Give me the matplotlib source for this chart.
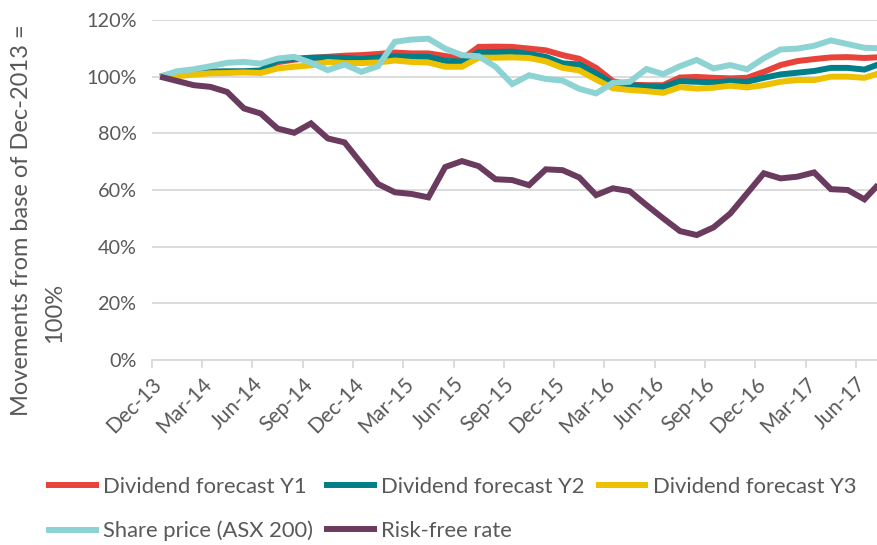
import matplotlib
matplotlib.use("Agg")
import matplotlib.pyplot as plt
import numpy as np

plt.rcParams['font.family'] = ['Lato', 'DejaVu Sans']

# Monthly index, Dec-13 = 100%
months = ['Dec-13', 'Jan-14', 'Feb-14', 'Mar-14', 'Apr-14', 'May-14', 'Jun-14', 'Jul-14',
          'Aug-14', 'Sep-14', 'Oct-14', 'Nov-14', 'Dec-14', 'Jan-15', 'Feb-15', 'Mar-15',
          'Apr-15', 'May-15', 'Jun-15', 'Jul-15', 'Aug-15', 'Sep-15', 'Oct-15', 'Nov-15',
          'Dec-15', 'Jan-16', 'Feb-16', 'Mar-16', 'Apr-16', 'May-16', 'Jun-16', 'Jul-16',
          'Aug-16', 'Sep-16', 'Oct-16', 'Nov-16', 'Dec-16', 'Jan-17', 'Feb-17', 'Mar-17',
          'Apr-17', 'May-17', 'Jun-17', 'Jul-17']

div_y1 = [100, 101.0, 101.3, 101.5, 101.6, 101.8, 102.0, 105.1, 106.0, 106.6, 107.0, 107.4,
          107.6, 108.0, 108.5, 108.2, 108.2, 107.3, 106.2, 110.5, 110.6, 110.5, 109.9, 109.3,
          107.6, 106.3, 103.1, 98.4, 97.2, 97.0, 97.0, 99.7, 99.9, 99.6, 99.4, 99.6,
          101.7, 104.1, 105.5, 106.2, 106.8, 106.9, 106.6, 106.9]
div_y2 = [100, 101.5, 101.8, 101.8, 101.9, 101.9, 102.2, 105.7, 106.3, 106.7, 106.8, 106.6,
          106.2, 106.8, 107.2, 107.0, 107.0, 105.6, 105.3, 108.6, 108.7, 108.8, 108.0, 107.0,
          104.7, 104.3, 101.1, 97.6, 97.0, 96.6, 96.4, 98.4, 98.2, 98.0, 98.4, 98.2,
          99.6, 100.8, 101.4, 102.0, 103.1, 103.1, 102.5, 104.7]
div_y3 = [100, 100.2, 100.7, 101.2, 101.3, 101.5, 101.3, 102.9, 103.5, 104.0, 105.2, 104.8,
          104.8, 105.0, 105.7, 105.2, 105.0, 103.5, 103.5, 106.7, 106.7, 106.8, 106.6, 105.4,
          103.1, 102.2, 99.0, 95.9, 95.3, 94.9, 94.3, 96.3, 95.8, 96.1, 96.8, 96.2,
          97.0, 98.2, 98.8, 98.8, 100.0, 100.0, 99.6, 101.4]
share_price = [100, 101.9, 102.6, 103.7, 104.9, 105.2, 104.6, 106.4, 107.0, 104.9, 102.3, 104.3,
               101.7, 103.7, 112.3, 113.1, 113.4, 109.9, 107.6, 107.2, 103.5, 97.4, 100.5, 99.2,
               98.6, 95.7, 94.1, 97.8, 98.2, 102.7, 100.9, 103.7, 105.9, 102.9, 104.1, 102.6,
               106.5, 109.6, 109.9, 110.9, 112.8, 111.5, 110.2, 110.0]
risk_free = [100, 98.5, 97.0, 96.4, 94.6, 88.8, 87.0, 81.7, 80.2, 83.5, 78.2, 76.8,
             69.4, 62.1, 59.2, 58.6, 57.4, 68.1, 70.2, 68.4, 63.8, 63.5, 61.7, 67.3,
             67.0, 64.4, 58.2, 60.6, 59.6, 54.7, 50.0, 45.5, 44.1, 46.8, 51.7, 58.8,
             65.9, 64.1, 64.7, 66.2, 60.3, 60.0, 56.7, 63.0]

series = [
    ('Dividend forecast Y1', div_y1, '#E8433A'),
    ('Dividend forecast Y2', div_y2, '#007F89'),
    ('Dividend forecast Y3', div_y3, '#EDC000'),
    ('Share price (ASX 200)', share_price, '#8ED3D3'),
    ('Risk-free rate', risk_free, '#6A3B5E'),
]

x = np.arange(len(months))
grey = '#595959'

fig = plt.figure(figsize=(8.78, 5.45), dpi=100)
ax = fig.add_axes([151.7 / 878, 1 - 360 / 545, 1 - 151.7 / 878, 340 / 545])

lines = {}
for name, vals, col in series:
    lines[name], = ax.plot(x, np.array(vals) / 100, color=col, lw=4.3,
                           solid_capstyle='butt', solid_joinstyle='miter', label=name)

ax.set_ylim(0, 1.2)
ax.set_xlim(-0.5, -0.5 + (878 - 151.7) / 16.77)
ax.set_yticks(np.arange(0, 1.21, 0.2))
ax.set_yticklabels([f"{int(round(v * 100))}%" for v in np.arange(0, 1.21, 0.2)])
ax.yaxis.grid(True, color='#D9D9D9', lw=1.3)
ax.set_axisbelow(True)

tick_pos = x[::3] - 0.5
ax.set_xticks(tick_pos)
ax.set_xticklabels(months[::3], rotation=45, ha='right', va='top',
                   rotation_mode='anchor')

for s in ['top', 'right', 'left']:
    ax.spines[s].set_visible(False)
ax.spines['bottom'].set_color('#D9D9D9')
ax.spines['bottom'].set_linewidth(1.3)
ax.tick_params(axis='x', colors='#D9D9D9', length=6, width=1.3, labelcolor=grey,
               labelsize=15, pad=4)
ax.tick_params(axis='y', length=0, labelcolor=grey, labelsize=14.3, pad=11)

# axis title, wrapped over two lines like the original
fig.text(22 / 878, 1 - 220 / 545, 'Movements from base of Dec-2013 =',
         rotation=90, ha='center', va='center', color=grey, fontsize=17)
fig.text(55 / 878, 1 - 313 / 545, '100%',
         rotation=90, ha='center', va='center', color=grey, fontsize=17)

order = ['Dividend forecast Y1', 'Share price (ASX 200)', 'Dividend forecast Y2',
         'Risk-free rate', 'Dividend forecast Y3']
fig.legend([lines[n] for n in order], order, ncol=3, loc='upper left',
           bbox_to_anchor=(46 / 878, 1 - 477 / 545), frameon=False,
           fontsize=15.8, labelcolor=grey, handlelength=2.4, handletextpad=0.2,
           columnspacing=0.5, labelspacing=1.08, borderpad=0, borderaxespad=0)

fig.savefig('out.png', dpi=100)
